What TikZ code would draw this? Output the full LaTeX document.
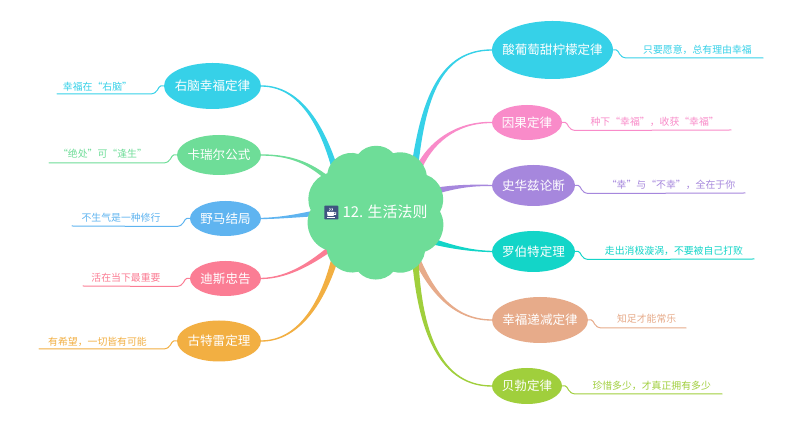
\documentclass[tikz,border=0pt]{standalone}
\usepackage{fontspec}
\setmainfont{Noto Sans CJK SC}
\usetikzlibrary{shapes.geometric,calc}
\definecolor{cCyan}{HTML}{36D1E8}
\definecolor{cGreen}{HTML}{6EDD98}
\definecolor{cBlue}{HTML}{5FB4F0}
\definecolor{cRed}{HTML}{FB7D94}
\definecolor{cOrange}{HTML}{F2AF42}
\definecolor{cPink}{HTML}{F98BC9}
\definecolor{cPurple}{HTML}{A687DD}
\definecolor{cTeal}{HTML}{13D5C8}
\definecolor{cSalmon}{HTML}{E7AB8A}
\definecolor{cLime}{HTML}{A0CF3C}
\definecolor{cIcon}{HTML}{3F5480}
\tikzset{
  topic/.style={ellipse,fill=#1,text=white,inner sep=0pt,font=\fontsize{9.4pt}{11pt}\selectfont},
  leaftext/.style={text=#1,inner sep=0pt,font=\fontsize{7.4pt}{8pt}\selectfont},
  leafline/.style={draw=#1,line width=0.75pt,line cap=round},
  branchfill/.style={fill=#1,draw=#1,line width=1pt,line join=round}
}
\newcommand{\TpText}[1]{\makebox[0pt][c]{#1}}
% colour, start, control 1, control 2, end offset from hub, half-width offset
\newcommand{\TaperBranch}[6]{%
  \path[branchfill=#1] (#2) .. controls (#3) and (#4) .. ($(hub)+(#5)+(#6)$)
    -- ($(hub)+(#5)-(#6)$) .. controls ($(#4)-(#6)$) and (#3) .. (#2) -- cycle;}
% colour, topic anchor, sign (+1 to the right), free end name
\newcommand{\LeafLine}[4]{%
  \draw[leafline=#1] (#2) -- ++(#3*3,0) .. controls ++(#3*3,0) and ($(#2)+(#3*5,8)$) .. ($(#2)+(#3*14,8)$) -- (#4);}
\begin{document}
\begin{tikzpicture}[x=0.75pt,y=-0.75pt]
\useasboundingbox (0,0) rectangle (800,423);
\fill[white] (0,0) rectangle (800,423);
\coordinate (hub) at (385,213);
% topics
\node[topic=cCyan,minimum width=72.75pt,minimum height=34.5pt] (t1) at (212.5,86) {\TpText{右脑幸福定律}};
\node[topic=cGreen,minimum width=63pt,minimum height=30pt] (t2) at (219,155) {\TpText{卡瑞尔公式}};
\node[topic=cBlue,minimum width=53.25pt,minimum height=26.25pt] (t3) at (225.5,218.5) {\TpText{野马结局}};
\node[topic=cRed,minimum width=53.25pt,minimum height=26.25pt] (t4) at (225.5,278.5) {\TpText{迪斯忠告}};
\node[topic=cOrange,minimum width=63pt,minimum height=30.75pt] (t5) at (219,341) {\TpText{古特雷定理}};
\node[topic=cCyan,minimum width=90.75pt,minimum height=43.5pt] (r1) at (552.5,50) {\TpText{酸葡萄甜柠檬定律}};
\node[topic=cPink,minimum width=52.5pt,minimum height=26.25pt] (r2) at (527,122.5) {\TpText{因果定律}};
\node[topic=cPurple,minimum width=62.25pt,minimum height=30.75pt] (r3) at (533.5,185.5) {\TpText{史华兹论断}};
\node[topic=cTeal,minimum width=62.25pt,minimum height=30.75pt] (r4) at (533.5,251.5) {\TpText{罗伯特定理}};
\node[topic=cSalmon,minimum width=72pt,minimum height=34.5pt] (r5) at (540,320) {\TpText{幸福递减定律}};
\node[topic=cLime,minimum width=52.5pt,minimum height=27pt] (r6) at (527,386) {\TpText{贝勃定律}};
% branches
\TaperBranch{cCyan}{t1.east}{300,86}{325,125}{-47,-33}{2.3,-1.5}
\TaperBranch{cGreen}{t2.east}{295,155}{315,165}{-50,-28}{1,-1.7}
\TaperBranch{cBlue}{t3.east}{285,218}{305,213}{-60,-1}{0,-3}
\TaperBranch{cRed}{t4.east}{290,278}{315,262}{-50,32}{1.3,2}
\TaperBranch{cOrange}{t5.east}{300,341}{325,300}{-50,45}{2.6,0.8}
\TaperBranch{cCyan}{r1.west}{440,50}{425,100}{30,-48}{2.6,0.6}
\TaperBranch{cPink}{r2.west}{455,122}{430,145}{33,-43}{1.8,2}
\TaperBranch{cPurple}{r3.west}{470,185}{455,188}{50,-22}{0.4,2.5}
\TaperBranch{cTeal}{r4.west}{470,251}{450,248}{43,27}{-0.5,2.5}
\TaperBranch{cSalmon}{r5.west}{450,320}{430,285}{30,42}{2.4,-1.3}
\TaperBranch{cLime}{r6.west}{435,386}{420,320}{30,42}{2.6,-0.4}
% central cloud
\coordinate (n1) at (358.3,154);
\coordinate (n2) at (393.3,153.3);
\coordinate (n3) at (426.7,175);
\coordinate (n4) at (440,211.7);
\coordinate (n5) at (425,251.7);
\coordinate (n6) at (393.3,271.7);
\coordinate (n7) at (358.3,271.7);
\coordinate (n8) at (326.7,250);
\coordinate (n9) at (310.7,210);
\coordinate (n10) at (327.3,173.3);
\fill[cGreen] (n1) to[bend left=50,looseness=1.0] (n2)
  to[bend left=50,looseness=1.0] (n3) to[bend left=50,looseness=1.0] (n4)
  to[bend left=50,looseness=1.0] (n5) to[bend left=50,looseness=1.0] (n6)
  to[bend left=50,looseness=1.0] (n7) to[bend left=50,looseness=1.0] (n8)
  to[bend left=50,looseness=1.0] (n9) to[bend left=50,looseness=1.0] (n10)
  to[bend left=50,looseness=1.0] (n1) -- cycle;
\node[text=white,inner sep=0pt,font=\fontsize{11.2pt}{13pt}\selectfont] (hubtext) at (385,212) {12. 生活法则};
% cup icon
\fill[cIcon,rounded corners=0.5pt] (324.3,205.7) rectangle (338.3,219.4);
\fill[white] (327,212) -- (334.2,212) -- (333.6,216) -- (327.6,216) -- cycle;
\draw[white,line width=0.6pt] (334,212.8) -- (335.8,212.8) -- (335.6,214.6) -- (333.8,214.6);
\fill[white] (326.6,216.6) rectangle (335,217.6);
\draw[white,line width=0.5pt] (329.5,210.8) -- (330.3,209.5) -- (329.7,208) (331.8,210.8) -- (332.5,209.5) -- (331.9,208);
% leaves
\coordinate (f1) at (57,94);
\coordinate (f2) at (49,163);
\coordinate (f3) at (72,226);
\coordinate (f4) at (83,286);
\coordinate (f5) at (39,349);
\coordinate (g1) at (763,58);
\coordinate (g2) at (731,130);
\coordinate (g3) at (745,193);
\coordinate (g4) at (754,259);
\coordinate (g5) at (686,328);
\coordinate (g6) at (722,394);
\LeafLine{cCyan}{t1.west}{-1}{f1}
\LeafLine{cGreen}{t2.west}{-1}{f2}
\LeafLine{cBlue}{t3.west}{-1}{f3}
\LeafLine{cRed}{t4.west}{-1}{f4}
\LeafLine{cOrange}{t5.west}{-1}{f5}
\LeafLine{cCyan}{r1.east}{1}{g1}
\LeafLine{cPink}{r2.east}{1}{g2}
\LeafLine{cPurple}{r3.east}{1}{g3}
\LeafLine{cTeal}{r4.east}{1}{g4}
\LeafLine{cSalmon}{r5.east}{1}{g5}
\LeafLine{cLime}{r6.east}{1}{g6}
\node[leaftext=cCyan] (a1) at (97.5,87) {幸福在“右脑”};
\node[leaftext=cGreen] (a2) at (102.5,154) {“绝处”可“逢生”};
\node[leaftext=cBlue] (a3) at (121,218) {不生气是一种修行};
\node[leaftext=cRed] (a4) at (126,278) {活在当下最重要};
\node[leaftext=cOrange] (a5) at (97.5,342) {有希望，一切皆有可能};
\node[leaftext=cCyan] (b1) at (697.5,50) {只要愿意，总有理由幸福};
\node[leaftext=cPink] (b2) at (654.7,122) {种下“幸福”，收获“幸福”};
\node[leaftext=cPurple] (b3) at (671,185) {“幸”与“不幸”，全在于你};
\node[leaftext=cTeal] (b4) at (674,251) {走出消极漩涡，不要被自己打败};
\node[leaftext=cSalmon] (b5) at (646.7,319) {知足才能常乐};
\node[leaftext=cLime] (b6) at (651.7,386) {珍惜多少，才真正拥有多少};
\end{tikzpicture}
\end{document}
